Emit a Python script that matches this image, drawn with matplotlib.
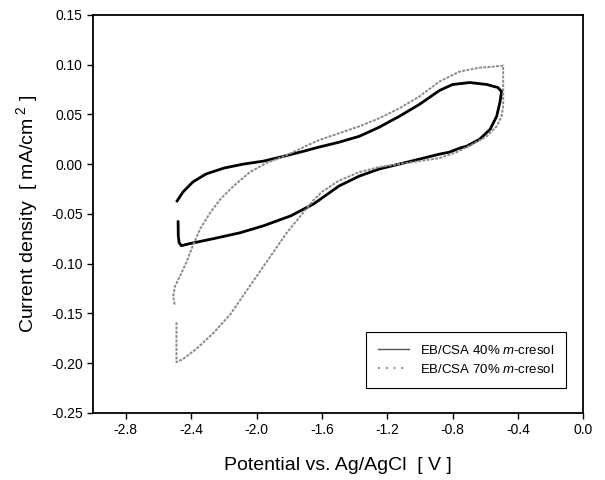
import numpy as np
import matplotlib.pyplot as plt

plt.rcParams['font.family'] = ['Liberation Sans', 'DejaVu Sans']
plt.rcParams['mathtext.fontset'] = 'custom'
plt.rcParams['mathtext.rm'] = 'Liberation Sans'
plt.rcParams['mathtext.it'] = 'Liberation Sans:italic'
plt.rcParams['axes.unicode_minus'] = False

# EB/CSA 40% m-cresol (potential V, current density mA/cm2)
v40 = [-2.480, -2.479, -2.474, -2.46, -2.41, -2.265, -2.10, -1.957, -1.79, -1.65,
       -1.495, -1.37, -1.25, -1.126, -1.003, -0.88, -0.82, -0.757, -0.714, -0.634,
       -0.57, -0.53, -0.51, -0.50, -0.523, -0.59, -0.695, -0.80, -0.88, -1.003,
       -1.126, -1.25, -1.37, -1.495, -1.62, -1.71, -1.83, -1.957, -2.08, -2.20,
       -2.31, -2.39, -2.45, -2.486]
j40 = [-0.058, -0.072, -0.079, -0.082, -0.080, -0.075, -0.069, -0.062, -0.052, -0.040,
       -0.022, -0.012, -0.005, 0.000, 0.005, 0.010, 0.012, 0.016, 0.018, 0.025,
       0.035, 0.048, 0.062, 0.073, 0.077, 0.080, 0.082, 0.080, 0.074, 0.060,
       0.048, 0.037, 0.028, 0.022, 0.017, 0.013, 0.008, 0.003, 0.000, -0.004,
       -0.010, -0.018, -0.028, -0.037]

# EB/CSA 70% m-cresol
v70 = [-2.49, -2.49, -2.45, -2.37, -2.265, -2.16, -2.06, -1.975, -1.895, -1.815,
       -1.73, -1.65, -1.60, -1.50, -1.37, -1.25, -1.126, -1.003, -0.88, -0.775,
       -0.677, -0.59, -0.53, -0.50, -0.49, -0.49, -0.55, -0.634, -0.757, -0.88,
       -1.003, -1.126, -1.25, -1.37, -1.495, -1.62, -1.70, -1.815, -1.94, -2.04,
       -2.14, -2.22, -2.28, -2.345, -2.39, -2.43, -2.47, -2.50, -2.51, -2.50]
j70 = [-0.159, -0.199, -0.196, -0.186, -0.170, -0.151, -0.127, -0.107, -0.088, -0.069,
       -0.052, -0.036, -0.028, -0.017, -0.008, -0.003, 0.000, 0.003, 0.006, 0.012,
       0.020, 0.028, 0.038, 0.048, 0.058, 0.099, 0.098, 0.097, 0.093, 0.083,
       0.068, 0.056, 0.046, 0.038, 0.031, 0.024, 0.018, 0.009, 0.001, -0.008,
       -0.022, -0.035, -0.048, -0.065, -0.082, -0.099, -0.113, -0.123, -0.133, -0.142]

xticks = np.arange(-2.8, 0.01, 0.4)
yticks = np.arange(-0.25, 0.151, 0.05)

def fmt(t, n):
    s = '%.*f' % (n, t)
    return s.lstrip('-') if float(s) == 0 else s

fig = plt.figure(figsize=(6.05, 4.8), dpi=100)
ax = fig.add_axes([0.154, 0.140, 0.810, 0.829])

ax.plot(v40, j40, color='black', lw=2.0, label='EB/CSA 40% $m$-cresol')
ax.plot(v70, j70, color='#8a8a8a', lw=1.4, ls=(0, (1.5, 0.7)), label='EB/CSA 70% $m$-cresol')

ax.set_xlim(-3.0, 0.0)
ax.set_ylim(-0.25, 0.15)
ax.set_xticks(xticks)
ax.set_xticklabels([fmt(t, 1) for t in xticks])
ax.set_yticks(yticks)
ax.set_yticklabels([fmt(t, 2) for t in yticks])
ax.tick_params(direction='out', length=4, width=1, labelsize=10, top=False, right=False)
for s in ax.spines.values():
    s.set_linewidth(1.3)

ax.set_xlabel('Potential vs. Ag/AgCl  [ V ]', fontsize=14, labelpad=14)
ax.set_ylabel(r'Current density  [ mA/cm$^{\,\,2}$ ]', fontsize=14, labelpad=8)

leg = ax.legend(loc='lower right', bbox_to_anchor=(0.965, 0.063), borderaxespad=0,
                fontsize=9.5, fancybox=False, edgecolor='black', framealpha=1,
                handlelength=2.4, labelspacing=0.45, borderpad=0.9)
leg.get_frame().set_linewidth(0.8)
leg.get_lines()[0].set_linewidth(1.0)
leg.get_lines()[0].set_color('#555555')
leg.get_lines()[1].set_linestyle((0, (1, 3)))

plt.savefig('out.png', dpi=100)
